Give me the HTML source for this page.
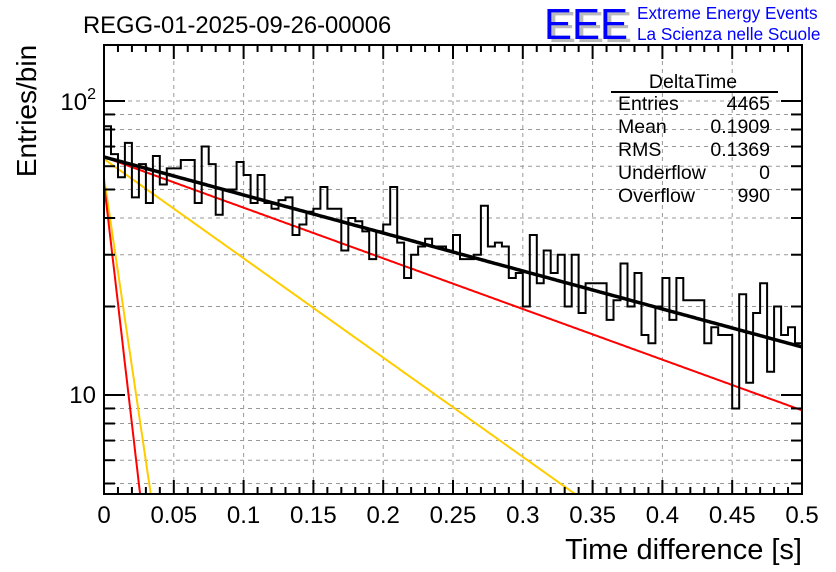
<!DOCTYPE html>
<html><head><meta charset="utf-8"><style>
body{margin:0;background:#fff;}
svg{display:block;font-family:"Liberation Sans",Arial,sans-serif;}
</style></head><body>
<svg id="c" width="836" height="572" viewBox="0 0 836 572">
<rect width="836" height="572" fill="#fff"/>
<g id="grid"></g>
<g id="fits"></g>
<g id="hist"></g>
<g id="axes"></g>
<text x="83" y="33" font-size="23.8">REGG-01-2025-09-26-00006</text>
<g>
<text x="548" y="42" font-size="44" fill="#bbb" textLength="84" lengthAdjust="spacingAndGlyphs">EEE</text>
<text x="544" y="39" font-size="44" fill="#0000ff" textLength="84" lengthAdjust="spacingAndGlyphs">EEE</text>
<text x="637" y="19" font-size="17.2" fill="#0000ff">Extreme Energy Events</text>
<text x="637" y="40" font-size="17.2" fill="#0000ff">La Scienza nelle Scuole</text>
</g>
<text transform="translate(36,111) rotate(-90)" text-anchor="middle" font-size="28">Entries/bin</text>
<text x="802" y="559" text-anchor="end" font-size="29">Time difference [s]</text>
<g font-size="19.5">
<text x="693" y="88" text-anchor="middle">DeltaTime</text>
<line x1="611" y1="92" x2="778" y2="92" stroke="#000" stroke-width="2"/>
<text x="618" y="110">Entries</text><text x="770" y="110" text-anchor="end">4465</text>
<text x="618" y="133">Mean</text><text x="770" y="133" text-anchor="end">0.1909</text>
<text x="618" y="156">RMS</text><text x="770" y="156" text-anchor="end">0.1369</text>
<text x="618" y="179">Underflow</text><text x="770" y="179" text-anchor="end">0</text>
<text x="618" y="202">Overflow</text><text x="770" y="202" text-anchor="end">990</text>
</g>
</svg>
<script>
const counts=[82,66,55,72,47,61,45,65,52,59,59,63,63,45,70,61,41,50,50,62,56,45,56,45,43,46,47,35,38,42,43,51,43,43,31,40,39,36,29,36,38,51,33,25,30,32,34,32,32,31,35,29,29,30,44,32,33,32,25,26,20,35,24,31,26,30,20,30,19,24,24,24,18,21,28,20,26,16,15,20,25,18,25,21,21,21,15,17,16,16,9,22,11,19,24,12,20,16,17,15];
const binWidth=[0.005];
const xTicks=[0,0.05,0.1,0.15,0.2,0.25,0.3,0.35,0.4,0.45,0.5];
const xTickLabels=["0","0.05","0.1","0.15","0.2","0.25","0.3","0.35","0.4","0.45","0.5"];
const yGridValues=[5,6,7,8,9,10,20,30,40,50,60,70,80,90,100];
const redSlowFit=[64.5,0.252];
const redFastFit=[52.6,0.0106];
const yellowSlowFit=[63.5,0.1286];
const yellowFastFit=[55,0.0135];
const totalFit=[64.5,0.336];
const L=104,R=802,T=45,B=494;
const X=t=>L+(t/0.5)*(R-L);
const Y=v=>101+(2-Math.log10(v))*294;
const NS="http://www.w3.org/2000/svg";
function mk(tag,attrs,parent){const e=document.createElementNS(NS,tag);for(const k in attrs)e.setAttribute(k,attrs[k]);parent.appendChild(e);return e;}
const grid=document.getElementById('grid'),axes=document.getElementById('axes'),hist=document.getElementById('hist'),fits=document.getElementById('fits');
xTicks.forEach((t,i)=>{if(i>0&&i<xTicks.length-1){const l=mk('line',{x1:X(t),x2:X(t),y1:T,y2:B,stroke:'#999','stroke-dasharray':'4,4','stroke-width':1},grid);

}});
yGridValues.forEach(v=>{const l=mk('line',{x1:L,x2:R,y1:Y(v),y2:Y(v),stroke:'#999','stroke-dasharray':'4,4','stroke-width':1},grid);

});
function curve(p,color,w,name){let d='';for(let i=0;i<=400;i++){const t=0.5*i/400;const v=p[0]*Math.exp(-t/p[1]);if(v<4.6){const tt=p[1]*Math.log(p[0]/4.6);d+=(i?'L':'M')+X(tt).toFixed(1)+','+B;break;}d+=(i?'L':'M')+X(t).toFixed(1)+','+Y(v).toFixed(1);}
const e=mk('path',{d:d,fill:'none',stroke:color,'stroke-width':w},fits);

}
curve(yellowSlowFit,'#ffcc00',2,'yellow-slow-fit');
curve(yellowFastFit,'#ffcc00',2,'yellow-fast-fit');
curve(redSlowFit,'#ff0000',2,'red-slow-fit');
curve(redFastFit,'#ff0000',2,'red-fast-fit');
let d='M'+X(0)+','+B;
counts.forEach((c,i)=>{d+='L'+X(i*binWidth[0]).toFixed(1)+','+Y(c).toFixed(1)+'L'+X((i+1)*binWidth[0]).toFixed(1)+','+Y(c).toFixed(1);});
const h=mk('path',{d:d,fill:'none',stroke:'#000','stroke-width':2},hist);


(function(){const p=totalFit;let dd='';for(let i=0;i<=200;i++){const t=0.5*i/200;dd+=(i?'L':'M')+X(t).toFixed(1)+','+Y(p[0]*Math.exp(-t/p[1])).toFixed(1);}
const e=mk('path',{d:dd,fill:'none',stroke:'#000','stroke-width':3.5},hist);

})();
const fr=mk('rect',{x:L,y:T,width:R-L,height:B-T,fill:'none',stroke:'#000','stroke-width':2},axes);


for(let i=0;i<=50;i++){const t=i*0.01;const major=i%5==0;const len=major?14:7;
mk('line',{x1:X(t),x2:X(t),y1:B,y2:B-len,stroke:'#000','stroke-width':2},axes);
mk('line',{x1:X(t),x2:X(t),y1:T,y2:T+len,stroke:'#000','stroke-width':2},axes);}
xTicks.forEach((t,i)=>{const e=mk('text',{x:X(t),y:523,'text-anchor':'middle','font-size':24},axes);e.textContent=xTickLabels[i];

});
yGridValues.forEach(v=>{const major=(v==10||v==100);const len=major?21:11;
mk('line',{x1:L,x2:L+len,y1:Y(v),y2:Y(v),stroke:'#000','stroke-width':2},axes);
mk('line',{x1:R,x2:R-len,y1:Y(v),y2:Y(v),stroke:'#000','stroke-width':2},axes);});
const t1=mk('text',{x:96,y:110,'text-anchor':'end','font-size':24},axes);t1.innerHTML='10<tspan dy="-11" font-size="16">2</tspan>';


const t2=mk('text',{x:96,y:403,'text-anchor':'end','font-size':24},axes);t2.textContent='10';


</script>
</body></html>
